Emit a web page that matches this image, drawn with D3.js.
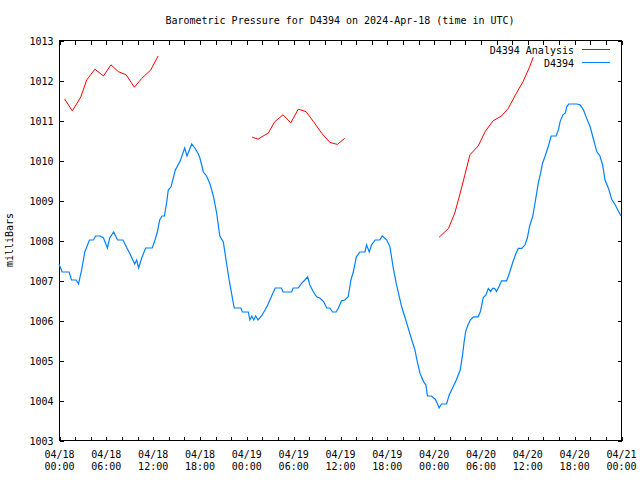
<!DOCTYPE html>
<html>
<head>
<meta charset="utf-8">
<script src="https://cdn.jsdelivr.net/npm/d3@7"></script>
<style>
  body { margin: 0; background: #fff; }
  svg { display: block; }
  text { font-family: "DejaVu Sans Mono", "Liberation Mono", monospace; font-size: 10px; fill: #000; }
</style>
</head>
<body>
<svg id="chart" width="640" height="480"></svg>
<script>
// ---- data ----
const titleText = "Barometric Pressure for D4394 on 2024-Apr-18 (time in UTC)";
const yLabelText = "milliBars";
const seriesNames = ["D4394 Analysis", "D4394"];

// hours since 04/18 00:00 UTC
const pressureHours = [0.0,0.4,1.3,1.6,2.2,2.5,2.9,3.3,3.9,4.4,4.7,5.25,5.7,6.2,6.5,7.0,7.5,8.2,8.7,9.1,9.7,9.95,10.2,10.6,11.1,11.95,12.3,12.6,12.9,13.2,13.5,13.8,14.0,14.35,14.9,15.5,16.1,16.4,16.7,17.0,17.4,17.85,18.05,18.5,18.9,19.35,19.8,20.2,20.6,21.05,21.4,21.8,22.1,22.45,23.3,23.5,24.25,24.45,24.7,24.95,25.2,25.5,25.95,26.4,26.8,27.2,27.7,28.5,28.7,29.8,30.0,30.65,31.1,31.5,31.85,32.15,32.6,33.0,33.4,33.9,34.3,34.7,35.05,35.5,35.8,36.2,36.6,37.05,37.4,37.7,38.1,38.55,39.2,39.4,39.75,40.05,40.5,41.1,41.4,42.0,42.4,42.8,43.2,43.6,43.9,44.3,44.75,45.2,45.6,45.9,46.25,46.7,47.0,47.2,47.7,48.2,48.5,48.7,49.0,49.65,50.0,50.5,50.9,51.4,51.7,51.9,52.1,52.4,52.7,53.1,53.7,54.0,54.35,54.7,55.0,55.3,55.55,55.8,56.05,56.4,56.7,57.35,57.7,58.1,58.55,58.85,59.3,59.7,60.0,60.3,60.7,61.05,61.4,61.7,61.95,62.25,62.7,63.05,63.7,64.0,64.2,64.55,64.85,65.05,65.3,66.35,66.75,67.2,67.6,68.05,68.5,68.9,69.3,69.65,69.95,70.4,70.8,71.25,71.8,72.0];
const pressureValues = [1007.4,1007.2,1007.2,1007.0,1007.0,1006.9,1007.25,1007.7,1008.0,1008.0,1008.1,1008.1,1008.05,1007.8,1008.05,1008.2,1008.0,1008.0,1007.8,1007.65,1007.4,1007.5,1007.3,1007.55,1007.8,1007.8,1008.0,1008.2,1008.5,1008.6,1008.6,1008.95,1009.25,1009.33,1009.75,1009.96,1010.3,1010.1,1010.25,1010.4,1010.3,1010.15,1010.05,1009.7,1009.6,1009.4,1009.08,1008.67,1008.1,1007.95,1007.5,1007.0,1006.67,1006.3,1006.3,1006.2,1006.2,1006.0,1006.1,1006.0,1006.1,1006.0,1006.1,1006.25,1006.4,1006.58,1006.8,1006.8,1006.7,1006.7,1006.8,1006.8,1006.92,1007.0,1007.08,1006.87,1006.7,1006.58,1006.55,1006.46,1006.3,1006.3,1006.2,1006.2,1006.3,1006.48,1006.5,1006.58,1007.0,1007.2,1007.58,1007.7,1007.7,1007.88,1007.7,1007.88,1008.0,1008.0,1008.1,1008.0,1007.83,1007.33,1006.92,1006.58,1006.33,1006.08,1005.79,1005.5,1005.25,1004.96,1004.67,1004.46,1004.38,1004.1,1004.1,1004.02,1003.9,1003.8,1003.9,1003.9,1004.13,1004.33,1004.5,1004.75,1005.13,1005.45,1005.71,1005.88,1006.0,1006.08,1006.08,1006.22,1006.56,1006.63,1006.79,1006.71,1006.79,1006.79,1006.71,1006.85,1006.98,1006.98,1007.17,1007.42,1007.67,1007.79,1007.79,1007.88,1008.05,1008.35,1008.6,1009.0,1009.42,1009.67,1009.92,1010.08,1010.35,1010.6,1010.6,1010.77,1010.96,1011.13,1011.17,1011.33,1011.4,1011.4,1011.38,1011.25,1011.04,1010.83,1010.5,1010.21,1010.1,1009.88,1009.5,1009.29,1009.02,1008.88,1008.67,1008.6];

// analysis series; null marks a gap between runs
const analysisHours = [0.7,1.7,2.25,2.8,3.1,3.55,4.05,4.6,5.7,6.65,7.6,8.6,9.65,10.6,11.75,12.7, 18.0,
  24.75,25.5,26.15,26.8,27.65,28.7,29.7,30.65,31.65,32.6,33.65,34.7,35.65,36.6, 42.0,
  48.7,49.9,50.7,51.4,52.0,52.65,53.7,54.6,55.6,56.7,57.55,58.6,59.45,60.3,60.75];
const analysisValues = [1011.53,1011.23,1011.4,1011.58,1011.75,1012.0,1012.13,1012.27,1012.1,1012.38,1012.21,1012.13,1011.82,1012.04,1012.25,1012.6, null,
  1010.57,1010.52,1010.6,1010.67,1010.96,1011.13,1010.93,1011.27,1011.21,1010.96,1010.67,1010.44,1010.39,1010.54, null,
  1008.07,1008.29,1008.67,1009.17,1009.63,1010.13,1010.35,1010.71,1010.98,1011.1,1011.29,1011.67,1011.96,1012.33,1012.57];

const xMajorTicks = [0,6,12,18,24,30,36,42,48,54,60,66,72];
const xTickLabels = [["04/18","00:00"],["04/18","06:00"],["04/18","12:00"],["04/18","18:00"],
  ["04/19","00:00"],["04/19","06:00"],["04/19","12:00"],["04/19","18:00"],
  ["04/20","00:00"],["04/20","06:00"],["04/20","12:00"],["04/20","18:00"],["04/21","00:00"]];
const yTicks = [1003,1004,1005,1006,1007,1008,1009,1010,1011,1012,1013];
const seriesColors = ["#ff0000", "#0080ff"];

// ---- layout ----
const pLeft = 59, pRight = 621, pTop = 40, pBottom = 440;
const svg = d3.select("#chart");

const x = d3.scaleLinear().domain([0, 72]).range([pLeft, pRight]);
const y = d3.scaleLinear().domain([1003, 1013]).range([pBottom, pTop]);

const minorTicks = d3.range(0, 73, 2);

// frame
svg.append("rect")
  .attr("x", pLeft + 0.5).attr("y", pTop + 0.5)
  .attr("width", pRight - pLeft).attr("height", pBottom - pTop)
  .attr("fill", "none").attr("stroke", "#000").attr("stroke-width", 1)
  .attr("shape-rendering", "crispEdges");

function styleAxis(g) {
  g.select(".domain").remove();
  g.selectAll(".tick line").attr("stroke", "#000").attr("shape-rendering", "crispEdges");
}

// bottom ticks (inward)
svg.append("g").attr("transform", `translate(0.5,${pBottom + 0.5})`)
  .call(d3.axisBottom(x).tickValues(minorTicks).tickSize(-4).tickFormat(""))
  .call(styleAxis);
// top ticks (inward)
svg.append("g").attr("transform", `translate(0.5,${pTop + 0.5})`)
  .call(d3.axisTop(x).tickValues(minorTicks).tickSize(-4).tickFormat(""))
  .call(styleAxis);
// left ticks + labels
const yAxisG = svg.append("g").attr("transform", `translate(${pLeft + 0.5},0.5)`)
  .call(d3.axisLeft(y).tickValues(yTicks).tickSize(-4).tickFormat(d3.format("d")))
  .call(styleAxis);
yAxisG.attr("font-family", null).attr("font-size", null);
yAxisG.selectAll(".tick text")
  .attr("x", -6).attr("dy", "0.35em").attr("text-anchor", "end");
// right ticks
svg.append("g").attr("transform", `translate(${pRight + 0.5},0.5)`)
  .call(d3.axisRight(y).tickValues(yTicks).tickSize(-4).tickFormat(""))
  .call(styleAxis);

// x labels (two lines)
const xLabelG = svg.append("g").attr("transform", `translate(0,${pBottom})`)
  .call(d3.axisBottom(x).tickValues(xMajorTicks).tickSize(0).tickFormat(""));
xLabelG.attr("font-family", null).attr("font-size", null);
xLabelG.select(".domain").remove();
xLabelG.selectAll(".tick text").remove();
xLabelG.selectAll(".tick").each(function(d, i) {
  const t = d3.select(this).append("text")
    .attr("text-anchor", "middle").attr("y", 17.5);
  t.append("tspan").attr("x", 0).text(xTickLabels[i][0]);
  t.append("tspan").attr("x", 0).attr("dy", 12).text(xTickLabels[i][1]);
});

// title
svg.append("text").attr("x", (pLeft + pRight) / 2).attr("y", 23.5)
  .attr("text-anchor", "middle").text(titleText);

// y label
svg.append("text")
  .attr("transform", `translate(13,${(pTop + pBottom) / 2}) rotate(-90)`)
  .attr("text-anchor", "middle").text(yLabelText);

// lines
const pressureData = pressureHours.map((h, i) => ({h, v: pressureValues[i]}));
const analysisData = analysisHours.map((h, i) => ({h, v: analysisValues[i]}));
const line = d3.line().defined(d => d.v !== null).x(d => x(d.h)).y(d => y(d.v));

svg.append("path").datum(analysisData)
  .attr("d", line).attr("fill", "none")
  .attr("stroke", seriesColors[0]).attr("stroke-width", 1);
svg.append("path").datum(pressureData)
  .attr("d", line).attr("fill", "none")
  .attr("stroke", seriesColors[1]).attr("stroke-width", 1.2);

// legend
const legend = svg.append("g");
seriesNames.forEach((name, i) => {
  const ly = 50 + i * 13;
  legend.append("text").attr("x", 574).attr("y", ly + 3.5)
    .attr("text-anchor", "end").text(name);
  legend.append("line").attr("x1", 582).attr("x2", 610)
    .attr("y1", ly - 0.5).attr("y2", ly - 0.5)
    .attr("stroke", seriesColors[i]).attr("stroke-width", 1)
    .attr("shape-rendering", "crispEdges");
});
</script>
</body>
</html>
